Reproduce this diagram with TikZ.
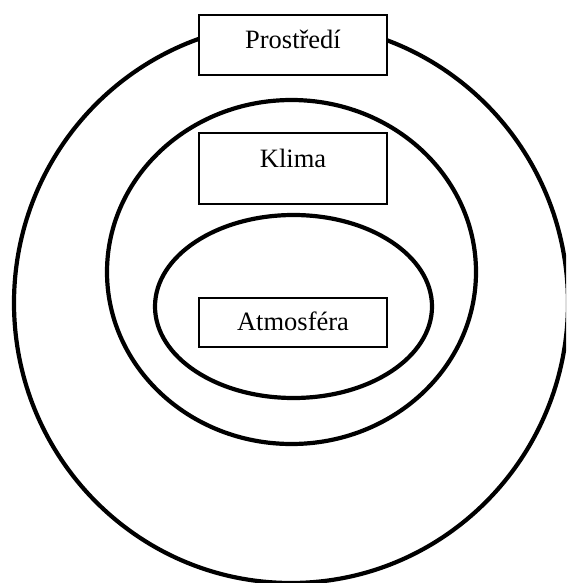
\documentclass[tikz,border=0pt]{standalone}
\usepackage{fontspec}
\setmainfont{Liberation Serif}
\usepackage{tikz}
\usetikzlibrary{positioning}

\tikzset{
	ring/.style={draw=black, line width=4.2pt},
	levelbox/.style={draw=black, fill=white, line width=1.9pt, rectangle,
		minimum width=188pt, inner sep=0pt, text height=17pt,
		font=\fontsize{26.5}{30}\selectfont},
}

\begin{document}
\begin{tikzpicture}[x=1pt, y=-1pt]
		
		% ---------------------
		% Page frame
		\useasboundingbox (0,0) rectangle (566,583);
		\clip (0,0) rectangle (566,583);
		
		% ---------------------
		% Ring centres
		\coordinate (OuterC)  at (291.0,303.0);
		\coordinate (MiddleC) at (291.5,272.0);
		\coordinate (InnerC)  at (293.5,306.5);
		
		% ---------------------
		% Rings
		\draw[ring] (OuterC)  ellipse [x radius=277.0, y radius=280.0];
		\draw[ring] (MiddleC) ellipse [x radius=184.5, y radius=172.0];
		\draw[ring] (InnerC)  ellipse [x radius=138.5, y radius=91.5];
		
		% ------------------------------------------------
		% Level boxes
		\node[levelbox, minimum height=60pt, text depth=9pt] (Environment) at (293,45) {Prostředí};
		\node[levelbox, minimum height=71pt, text depth=18pt, below=56pt of Environment] (Climate) {Klima};
		\node[levelbox, minimum height=49pt, text depth=0pt, below=92pt of Climate] (Atmosphere) {Atmosféra};
		
\end{tikzpicture}
\end{document}
